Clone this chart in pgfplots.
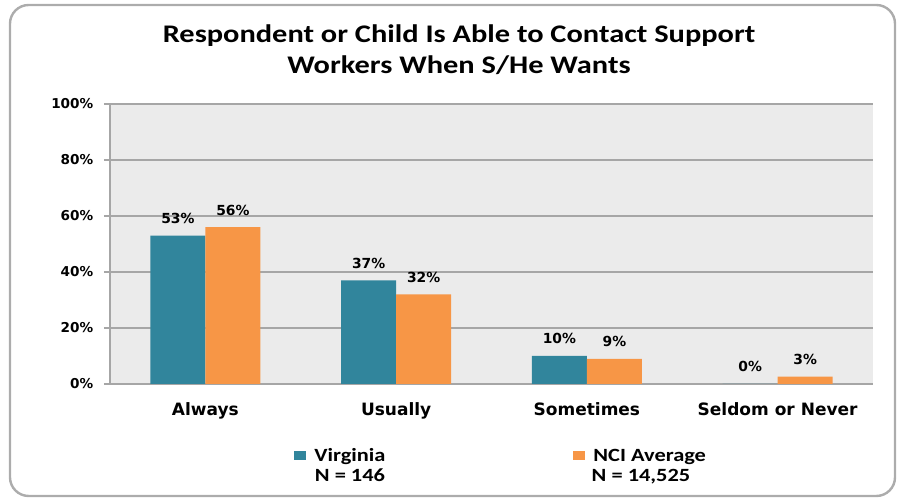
\documentclass[border=0pt]{standalone}
\usepackage{pgfplots}
\pgfplotsset{compat=1.18}
\usepackage{fontspec}
\setmainfont{DejaVu Sans}
\newfontfamily\calib[FakeStretch=1.2]{Carlito}

\definecolor{vateal}{HTML}{31859C}
\definecolor{nciorange}{HTML}{F79646}
\definecolor{plotbg}{HTML}{EBEBEB}
\definecolor{gridc}{HTML}{A6A6A6}

\begin{document}
\begin{tikzpicture}
  % frame and title, in pixel units of the reference
  \begin{scope}[x=0.75pt,y=0.75pt]
    \useasboundingbox (0,0) rectangle (900,499);
    \draw[gray!65, line width=1.8pt, rounded corners=14pt] (10,3) rectangle (895,494);
    \node[font=\calib\bfseries\fontsize{19}{23}\selectfont, anchor=base] at (459,456)
      {Respondent or Child Is Able to Contact Support};
    \node[font=\calib\bfseries\fontsize{19}{23}\selectfont, anchor=base] at (459,425)
      {Workers When S/He Wants};
    \node[font=\calib\bfseries\fontsize{14}{17}\selectfont, anchor=base] at (350,17) {N = 146};
    \node[font=\calib\bfseries\fontsize{14}{17}\selectfont, anchor=base] at (641,17) {N = 14,525};
  \end{scope}

  \begin{axis}[
    at={(82.5pt,86.25pt)}, anchor=south west,
    scale only axis, width=572.25pt, height=210pt,
    xmin=-0.5, xmax=3.5, ymin=0, ymax=100,
    axis x line*=bottom, axis y line*=left,
    axis line style={gridc, line width=0.8pt, -},
    axis background/.style={fill=plotbg},
    ymajorgrids, grid style={gridc, line width=0.8pt},
    ytick={0,20,...,100},
    yticklabel={\pgfmathprintnumber{\tick}\%},
    /pgf/number format/assume math mode=true,
    tick align=outside, major tick length=4.5pt,
    ytick style={gridc, line width=0.8pt},
    yticklabel style={font=\bfseries\fontsize{10.2}{12}\selectfont, xshift=-4.5pt},
    xtick={0,1,2,3},
    xticklabels={Always,Usually,Sometimes,Seldom or Never},
    xtick style={draw=none},
    xticklabel style={font=\bfseries\fontsize{12.75}{15}\selectfont, yshift=-6pt},
    minor xtick={-0.5,0.5,1.5,2.5,3.5},
    minor tick length=3pt,
    minor x tick style={gridc, line width=0.8pt},
    ybar=0pt, bar width=41.25pt,
    nodes near coords, point meta=explicit symbolic,
    nodes near coords style={font=\bfseries\fontsize{10.4}{12}\selectfont, anchor=base, yshift=9pt, inner sep=0pt},
    legend columns=2,
    legend style={at={(0.236,-0.257)}, anchor=west, draw=none, fill=none,
      font=\calib\bfseries\fontsize{14}{17}\selectfont,
      /tikz/every odd column/.style={column sep=4.5pt},
      /tikz/every even column/.style={column sep=139pt}},
    legend image code/.code={\fill[#1, draw=none] (0pt,-3.4pt) rectangle (8.5pt,3.4pt);},
  ]
    \addplot[fill=vateal, draw=none] coordinates {
      (0,53) [53\%] (1,37) [37\%] (2,10) [10\%] (3,0) [0\%]
    };
    \addplot[fill=nciorange, draw=none] coordinates {
      (0,56) [56\%] (1,32) [32\%] (2,9) [9\%] (3,2.6) [3\%]
    };
    \legend{Virginia, NCI Average}
  \end{axis}
\end{tikzpicture}
\end{document}
